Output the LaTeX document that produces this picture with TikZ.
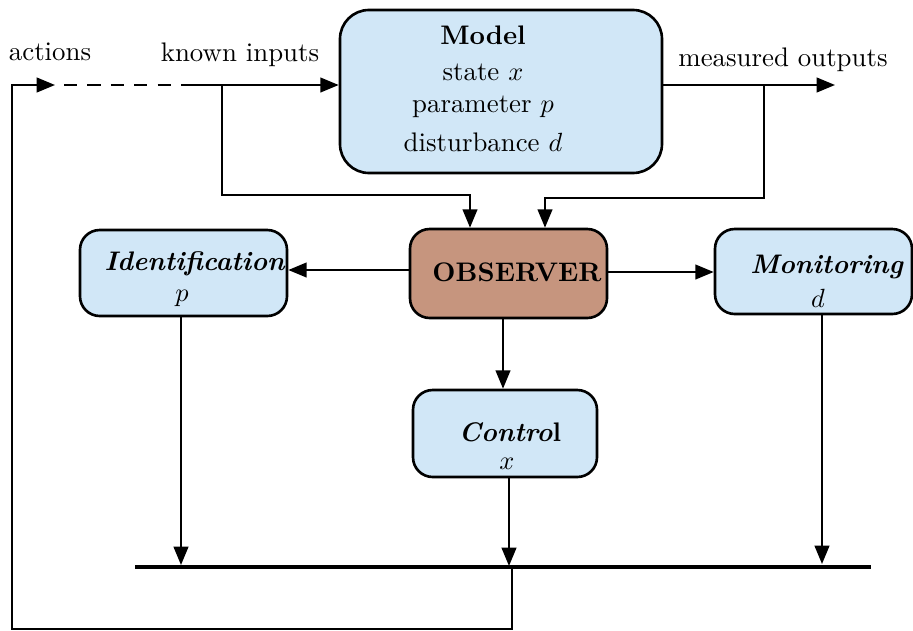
\documentclass[tikz,border=0pt]{standalone}
\usetikzlibrary{arrows.meta,fit}
\definecolor{boxblue}{HTML}{D1E7F7}
\definecolor{obsbrown}{HTML}{C6957E}
\tikzset{
  box/.style={draw=black, line width=1pt, fill=boxblue, rounded corners=7.5pt, inner sep=0pt},
  obsbox/.style={box, fill=obsbrown},
  conn/.style={line width=0.8pt, -{Triangle[length=7pt,width=5.6pt]}},
  plain/.style={line width=0.8pt},
  lbl/.style={inner sep=0pt, font=\fontsize{10.2}{12}\selectfont}
}
\begin{document}
\begin{tikzpicture}[x=0.38pt,y=-0.38pt]
\useasboundingbox (0,0) rectangle (913,630);
% boxes
\node[box, rounded corners=11pt, fit={(340,10) (662,173)}] (model) {};
\node[obsbox, fit={(410,229) (607,318)}] (obs) {};
\node[box, fit={(80,230) (287,316)}] (ident) {};
\node[box, fit={(715,229) (912,314)}] (monit) {};
\node[box, fit={(413,390) (597,477)}] (ctrl) {};
% texts
\node[lbl] (mt1) at (483,35) {\textbf{Model}};
\node[lbl] (mt2) at (483,72) {state $x$};
\node[lbl] (mt3) at (483,107) {parameter $p$};
\node[lbl] (mt4) at (483,142) {disturbance $d$};
\node[lbl] (ot) at (517,272) {\textbf{OBSERVER}};
\node[lbl] (it1) at (195,264) {\textbf{\textit{Identification}}};
\node[lbl] (it2) at (182,298) {$p$};
\node[lbl] (nt1) at (827,267) {\textbf{\textit{Monitoring}}};
\node[lbl] (nt2) at (818,298) {$d$};
\node[lbl] (ct1) at (510,432) {\textbf{\textit{Contro}l}};
\node[lbl] (ct2) at (507,464) {$x$};
\node[lbl] (la) at (50,52) {actions};
\node[lbl] (lk) at (240,55) {known inputs};
\node[lbl] (lm) at (783,60) {measured outputs};
% coordinates
\coordinate (actTip) at (55,85);
\coordinate (dashS) at (64,85);
\coordinate (dashE) at (190,85);
\coordinate (kBr) at (222,85);
\coordinate (mBr) at (764,85);
\coordinate (mOut) at (835,85);
\coordinate (barL) at (135,567);
\coordinate (barR) at (871,567);
\coordinate (barM) at (512,567);
% inputs
\draw[plain, dash pattern=on 5pt off 3.9pt] (dashS) -- (dashE);
\draw[conn] (dashE) -- (model.west |- dashE);
\draw[conn] (kBr) -- (222,195) -- (470,195) -- (obs.north -| 470,0);
% outputs
\draw[conn] (model.east |- mBr) -- (mOut);
\draw[conn] (mBr) -- (764,198) -- (545,198) -- (obs.north -| 545,0);
% observer outputs
\draw[conn] (obs.west |- 0,270) -- (ident.east |- 0,270);
\draw[conn] (obs.east |- 0,272) -- (monit.west |- 0,272);
\draw[conn] (obs.south -| 503,0) -- (ctrl.north -| 503,0);
% down to bar
\draw[conn] (ident.south -| 181,0) -- (181,565);
\draw[conn] (ctrl.south -| 509,0) -- (509,566);
\draw[conn] (monit.south -| 822,0) -- (822,564);
% bar
\draw[line width=1.8pt] (barL) -- (barR);
% feedback
\draw[conn] (barM) -- (512,629) -- (12,629) -- (12,85) -- (actTip);
\end{tikzpicture}
\end{document}
